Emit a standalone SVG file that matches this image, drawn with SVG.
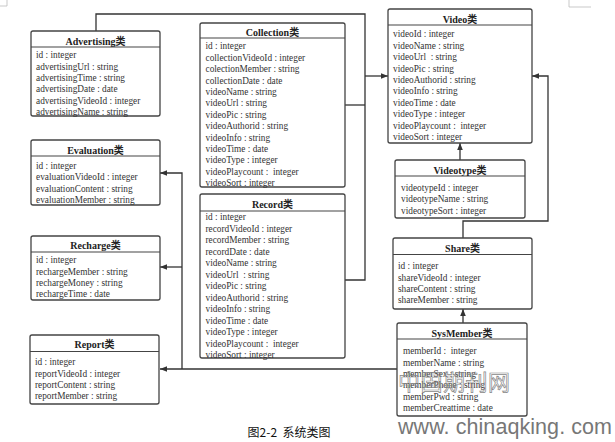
<svg xmlns="http://www.w3.org/2000/svg" width="615" height="442" viewBox="0 0 615 442">
<defs>
<marker id="ah" viewBox="0 0 10 10" refX="10" refY="5" markerWidth="7" markerHeight="7" markerUnits="userSpaceOnUse" orient="auto">
<path d="M0,1 L10,5 L0,9 Z" fill="#333"/>
</marker>
</defs>
<style>
.box{fill:#fff;stroke:#444;stroke-width:1.3}
.sep{stroke:#444;stroke-width:1.2}
.t{font-family:"Liberation Serif","Noto Sans CJK SC",serif;font-size:10px;font-weight:bold;fill:#222;text-anchor:middle}
.a{font-family:"Liberation Serif","Noto Sans CJK SC",serif;font-size:9.3px;fill:#333}
.c{fill:none;stroke:#333;stroke-width:1.3}
.mk{fill:none;stroke:#bbb;stroke-width:0.8}
</style>
<rect width="615" height="442" fill="#fff"/>
<path class="mk" d="M7,0 V6 H0 M569,0 V7 H591"/>

<g id="connectors">
<path class="c" d="M96,31 V14 H365 V280 H345"/>
<path class="c" d="M345,105 H365"/>
<path class="c" d="M365,76 H388" marker-end="url(#ah)"/>
<path class="c" d="M463,238 V221 H548 V76 H532" marker-end="url(#ah)"/>
<path class="c" d="M460,160 V143" marker-end="url(#ah)"/>
<path class="c" d="M463,323 V309" marker-end="url(#ah)"/>
<path class="c" d="M397,369 H160" marker-end="url(#ah)"/>
<path class="c" d="M182,369 V173 H160" marker-end="url(#ah)"/>
<path class="c" d="M182,267 H160" marker-end="url(#ah)"/>
</g>

<g id="advertising">
<rect class="box" x="31" y="31" width="129" height="85" rx="2"/>
<line class="sep" x1="31" y1="47" x2="160" y2="47"/>
<text class="t" x="95.5" y="45">Advertising类</text>
<text class="a" x="36" y="58.3">id : integer</text>
<text class="a" x="36" y="69.6">advertisingUrl : string</text>
<text class="a" x="36" y="80.9">advertisingTime : string</text>
<text class="a" x="36" y="92.2">advertisingDate : date</text>
<text class="a" x="36" y="103.5">advertisingVideoId : integer</text>
<text class="a" x="36" y="114.8">advertisingName : string</text>
</g>

<g id="evaluation">
<rect class="box" x="31" y="140" width="129" height="65" rx="2"/>
<line class="sep" x1="31" y1="156" x2="160" y2="156"/>
<text class="t" x="95.5" y="153.5">Evaluation类</text>
<text class="a" x="36" y="169">id : integer</text>
<text class="a" x="36" y="180.3">evaluationVideoId : integer</text>
<text class="a" x="36" y="191.6">evaluationContent : string</text>
<text class="a" x="36" y="202.9">evaluationMember : string</text>
</g>

<g id="recharge">
<rect class="box" x="31" y="236" width="129" height="64" rx="2"/>
<line class="sep" x1="31" y1="252" x2="160" y2="252"/>
<text class="t" x="95.5" y="249">Recharge类</text>
<text class="a" x="36" y="263.3">id : integer</text>
<text class="a" x="36" y="274.6">rechargeMember : string</text>
<text class="a" x="36" y="285.9">rechargeMoney : string</text>
<text class="a" x="36" y="297.2">rechargeTime : date</text>
</g>

<g id="report">
<rect class="box" x="30" y="335" width="129" height="69" rx="2"/>
<line class="sep" x1="30" y1="351.5" x2="159" y2="351.5"/>
<text class="t" x="94.5" y="348">Report类</text>
<text class="a" x="35" y="365.3">id : integer</text>
<text class="a" x="35" y="376.6">reportVideoId : integer</text>
<text class="a" x="35" y="387.9">reportContent : string</text>
<text class="a" x="35" y="399.2">reportMember : string</text>
</g>

<g id="collection">
<rect class="box" x="200" y="23" width="145" height="164" rx="2"/>
<line class="sep" x1="200" y1="38" x2="345" y2="38"/>
<text class="t" x="272.5" y="35.5">Collection类</text>
<text class="a" x="205.5" y="49.3">id : integer</text>
<text class="a" x="205.5" y="60.7">collectionVideoId : integer</text>
<text class="a" x="205.5" y="72.1">colectionMember : string</text>
<text class="a" x="205.5" y="83.5">collectionDate : date</text>
<text class="a" x="205.5" y="94.9">videoName : string</text>
<text class="a" x="205.5" y="106.3">videoUrl  : string</text>
<text class="a" x="205.5" y="117.7">videoPic : string</text>
<text class="a" x="205.5" y="129.1">videoAuthorid : string</text>
<text class="a" x="205.5" y="140.5">videoInfo : string</text>
<text class="a" x="205.5" y="151.9">videoTime : date</text>
<text class="a" x="205.5" y="163.3">videoType : integer</text>
<text class="a" x="205.5" y="174.7" xml:space="preserve">videoPlaycount :  integer</text>
<text class="a" x="205.5" y="186.1">videoSort : integer</text>
</g>

<g id="record">
<rect class="box" x="200" y="194" width="145" height="164" rx="2"/>
<line class="sep" x1="200" y1="211" x2="345" y2="211"/>
<text class="t" x="272.5" y="207.5">Record类</text>
<text class="a" x="205.5" y="220">id : integer</text>
<text class="a" x="205.5" y="231.5">recordVideoId : integer</text>
<text class="a" x="205.5" y="243">recordMember : string</text>
<text class="a" x="205.5" y="254.5">recordDate : date</text>
<text class="a" x="205.5" y="266">videoName : string</text>
<text class="a" x="205.5" y="277.5" xml:space="preserve">videoUrl  : string</text>
<text class="a" x="205.5" y="289">videoPic : string</text>
<text class="a" x="205.5" y="300.5">videoAuthorid : string</text>
<text class="a" x="205.5" y="312">videoInfo : string</text>
<text class="a" x="205.5" y="323.5">videoTime : date</text>
<text class="a" x="205.5" y="335">videoType : integer</text>
<text class="a" x="205.5" y="346.5" xml:space="preserve">videoPlaycount :  integer</text>
<text class="a" x="205.5" y="358">videoSort : integer</text>
</g>

<g id="video">
<rect class="box" x="388" y="9" width="144" height="134" rx="2"/>
<line class="sep" x1="388" y1="25" x2="532" y2="25"/>
<text class="t" x="460" y="22.5">Video类</text>
<text class="a" x="393" y="37.3">videoId : integer</text>
<text class="a" x="393" y="48.7">videoName : string</text>
<text class="a" x="393" y="60.1" xml:space="preserve">videoUrl  : string</text>
<text class="a" x="393" y="71.5">videoPic : string</text>
<text class="a" x="393" y="82.9">videoAuthorid : string</text>
<text class="a" x="393" y="94.3">videoInfo : string</text>
<text class="a" x="393" y="105.7">videoTime : date</text>
<text class="a" x="393" y="117.1">videoType : integer</text>
<text class="a" x="393" y="128.5" xml:space="preserve">videoPlaycount :  integer</text>
<text class="a" x="393" y="139.9">videoSort : integer</text>
</g>

<g id="videotype">
<rect class="box" x="395" y="160" width="130" height="58" rx="2"/>
<line class="sep" x1="395" y1="176" x2="525" y2="176"/>
<text class="t" x="460" y="173.5">Videotype类</text>
<text class="a" x="401" y="191">videotypeId : integer</text>
<text class="a" x="401" y="202.3">videotypeName : string</text>
<text class="a" x="401" y="213.6">videotypeSort : integer</text>
</g>

<g id="share">
<rect class="box" x="393" y="238" width="139" height="71" rx="2"/>
<line class="sep" x1="393" y1="254.5" x2="532" y2="254.5"/>
<text class="t" x="462.5" y="251.8">Share类</text>
<text class="a" x="398" y="269.3">id : integer</text>
<text class="a" x="398" y="280.6">shareVideoId : integer</text>
<text class="a" x="398" y="291.9">shareContent : string</text>
<text class="a" x="398" y="303.2">shareMember : string</text>
</g>

<g id="sysmember">
<rect class="box" x="397" y="323" width="130" height="93" rx="2"/>
<line class="sep" x1="397" y1="339" x2="527" y2="339"/>
<text class="t" x="462" y="336.8">SysMember类</text>
<text class="a" x="403" y="354.3" xml:space="preserve">memberId :  integer</text>
<text class="a" x="403" y="365.6">memberName : string</text>
<text class="a" x="403" y="376.9">memberSex : string</text>
<text class="a" x="403" y="388.2">memberPhone : string</text>
<text class="a" x="403" y="399.5">memberPwd : string</text>
<text class="a" x="403" y="410.8">memberCreattime : date</text>
</g>

<text x="289" y="437" font-family="'Noto Sans CJK SC','Liberation Serif',serif" font-size="12" fill="#111" text-anchor="middle" xml:space="preserve">图2-2  系统类图</text>

<text x="398" y="390" font-family="'Noto Sans CJK SC',sans-serif" font-size="22" fill="none" stroke="#888" stroke-width="0.7" textLength="112">中国期刊网</text>
<text x="398" y="434" font-family="'Liberation Sans',Arial,sans-serif" font-size="21.5" fill="#777" textLength="214" xml:space="preserve">www. chinaqking. com</text>
</svg>
